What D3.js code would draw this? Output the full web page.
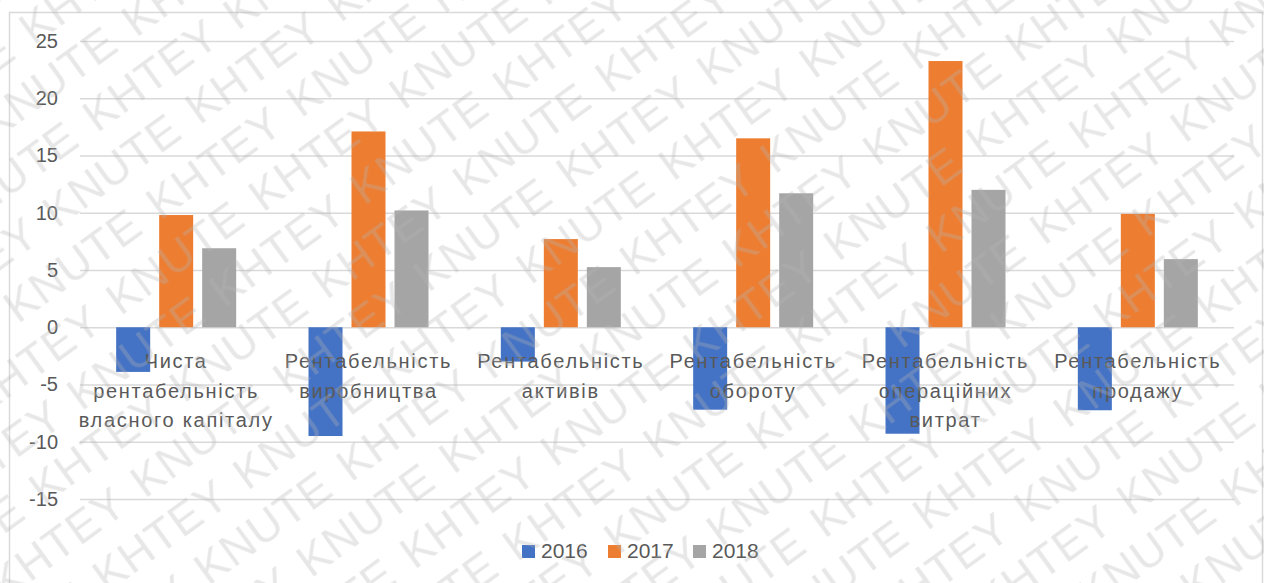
<!DOCTYPE html>
<html>
<head>
<meta charset="utf-8">
<script src="https://cdn.jsdelivr.net/npm/d3@7/dist/d3.min.js"></script>
<style>
  html, body { margin: 0; padding: 0; background: #ffffff; }
  svg { display: block; }
  text { font-family: "Liberation Sans", Arial, sans-serif; }
</style>
</head>
<body>
<svg id="chart" width="1264" height="583"></svg>
<script>
// ---- data ----
const categories = [
  ["Чиста", "рентабельність", "власного капіталу"],
  ["Рентабельність", "виробництва"],
  ["Рентабельність", "активів"],
  ["Рентабельність", "обороту"],
  ["Рентабельність", "операційних", "витрат"],
  ["Рентабельність", "продажу"]
];
const seriesNames = ["2016", "2017", "2018"];
const values2016 = [-3.9, -9.5, -3.0, -7.2, -9.3, -7.25];
const values2017 = [9.8, 17.1, 7.7, 16.5, 23.25, 9.9];
const values2018 = [6.9, 10.2, 5.25, 11.7, 12.0, 5.95];
const seriesColors = ["#4472c4", "#ed7d31", "#a5a5a5"];
const yTicks = [-15, -10, -5, 0, 5, 10, 15, 20, 25];
const watermarkWords = ["KNUTE", "KHTEY"];

const seriesValues = [values2016, values2017, values2018];
const catKeys = categories.map((c, i) => i);
const W = 1264, H = 583;

const svg = d3.select("#chart");

// outer border
svg.append("rect")
  .attr("x", 9.5).attr("y", 12.5)
  .attr("width", 1253).attr("height", 620)
  .attr("fill", "#ffffff")
  .attr("stroke", "#d9d9d9").attr("stroke-width", 1.5);

// scales
const x0 = d3.scaleBand().domain(catKeys).range([80, 1234]).paddingInner(0).paddingOuter(0);
const groupW = 120;
const x1 = d3.scaleBand().domain(seriesNames).range([0, groupW]).paddingInner(9 / 43).paddingOuter(0);
const y = d3.scaleLinear().domain([-15, 25]).range([499, 41]);

// gridlines + y labels
const yAxis = d3.axisLeft(y).tickValues(yTicks).tickSize(-(1234 - 80)).tickFormat(d => String(d)).tickPadding(22);
const gy = svg.append("g").attr("transform", "translate(80,0)").call(yAxis);
gy.select(".domain").remove();
gy.selectAll(".tick line").attr("stroke", "#d9d9d9").attr("stroke-width", 1.5);
gy.selectAll(".tick text")
  .attr("fill", "#595959")
  .style("font-size", "20px")
  .style("font-family", "'Liberation Sans', Arial, sans-serif");

// bars
const groups = svg.append("g").selectAll("g")
  .data(catKeys)
  .join("g")
  .attr("transform", d => `translate(${x0(d) + (x0.bandwidth() - groupW) / 2},0)`);

groups.selectAll("rect")
  .data(ci => seriesNames.map((s, si) => ({ s, si, v: seriesValues[si][ci] })))
  .join("rect")
  .attr("x", d => x1(d.s))
  .attr("width", x1.bandwidth())
  .attr("y", d => y(Math.max(0, d.v)))
  .attr("height", d => Math.abs(y(d.v) - y(0)))
  .attr("fill", d => seriesColors[d.si]);

// category labels
const labels = svg.append("g");
catKeys.forEach(ci => {
  const cx = x0(ci) + x0.bandwidth() / 2;
  const t = labels.append("text")
    .attr("x", cx)
    .attr("y", 368)
    .attr("text-anchor", "middle")
    .attr("fill", "#595959")
    .style("font-size", "20px")
    .style("letter-spacing", "1.7px");
  categories[ci].forEach((line, li) => {
    t.append("tspan").attr("x", cx).attr("dy", li === 0 ? 0 : 29.5).text(line);
  });
});

// legend
const legendX = [522, 608, 693];
const legend = svg.append("g");
seriesNames.forEach((s, i) => {
  legend.append("rect")
    .attr("x", legendX[i]).attr("y", 545)
    .attr("width", 13).attr("height", 13)
    .attr("fill", seriesColors[i]);
  legend.append("text")
    .attr("x", legendX[i] + 19).attr("y", 558)
    .attr("fill", "#595959")
    .style("font-size", "21px")
    .text(s);
});

// watermark: tiled pattern, rotated
const wordStep = 175, lineStep = 54;
const tileW = wordStep * 2, tileH = lineStep * 2;
const defs = svg.append("defs");
const pat = defs.append("pattern")
  .attr("id", "wm")
  .attr("patternUnits", "userSpaceOnUse")
  .attr("width", tileW).attr("height", tileH)
  .attr("patternTransform", "translate(632,291) rotate(-36)");
const wmItems = [
  { w: watermarkWords[0], x: 0, row: 0 },
  { w: watermarkWords[1], x: wordStep, row: 0 },
  { w: watermarkWords[0], x: tileW, row: 0 },
  { w: watermarkWords[1], x: wordStep / 2, row: 1 },
  { w: watermarkWords[0], x: wordStep * 1.5, row: 1 }
];
wmItems.forEach(d => {
  pat.append("text")
    .attr("x", d.x)
    .attr("y", d.row * lineStep + 44)
    .attr("text-anchor", "middle")
    .attr("fill", "#b4b4b4")
    .attr("fill-opacity", 0.32)
    .style("font-size", "45px")
    .style("letter-spacing", "1px")
    .text(d.w);
});
svg.append("rect")
  .attr("x", 0).attr("y", 0).attr("width", W).attr("height", H)
  .attr("fill", "url(#wm)")
  .attr("pointer-events", "none");
</script>
</body>
</html>
